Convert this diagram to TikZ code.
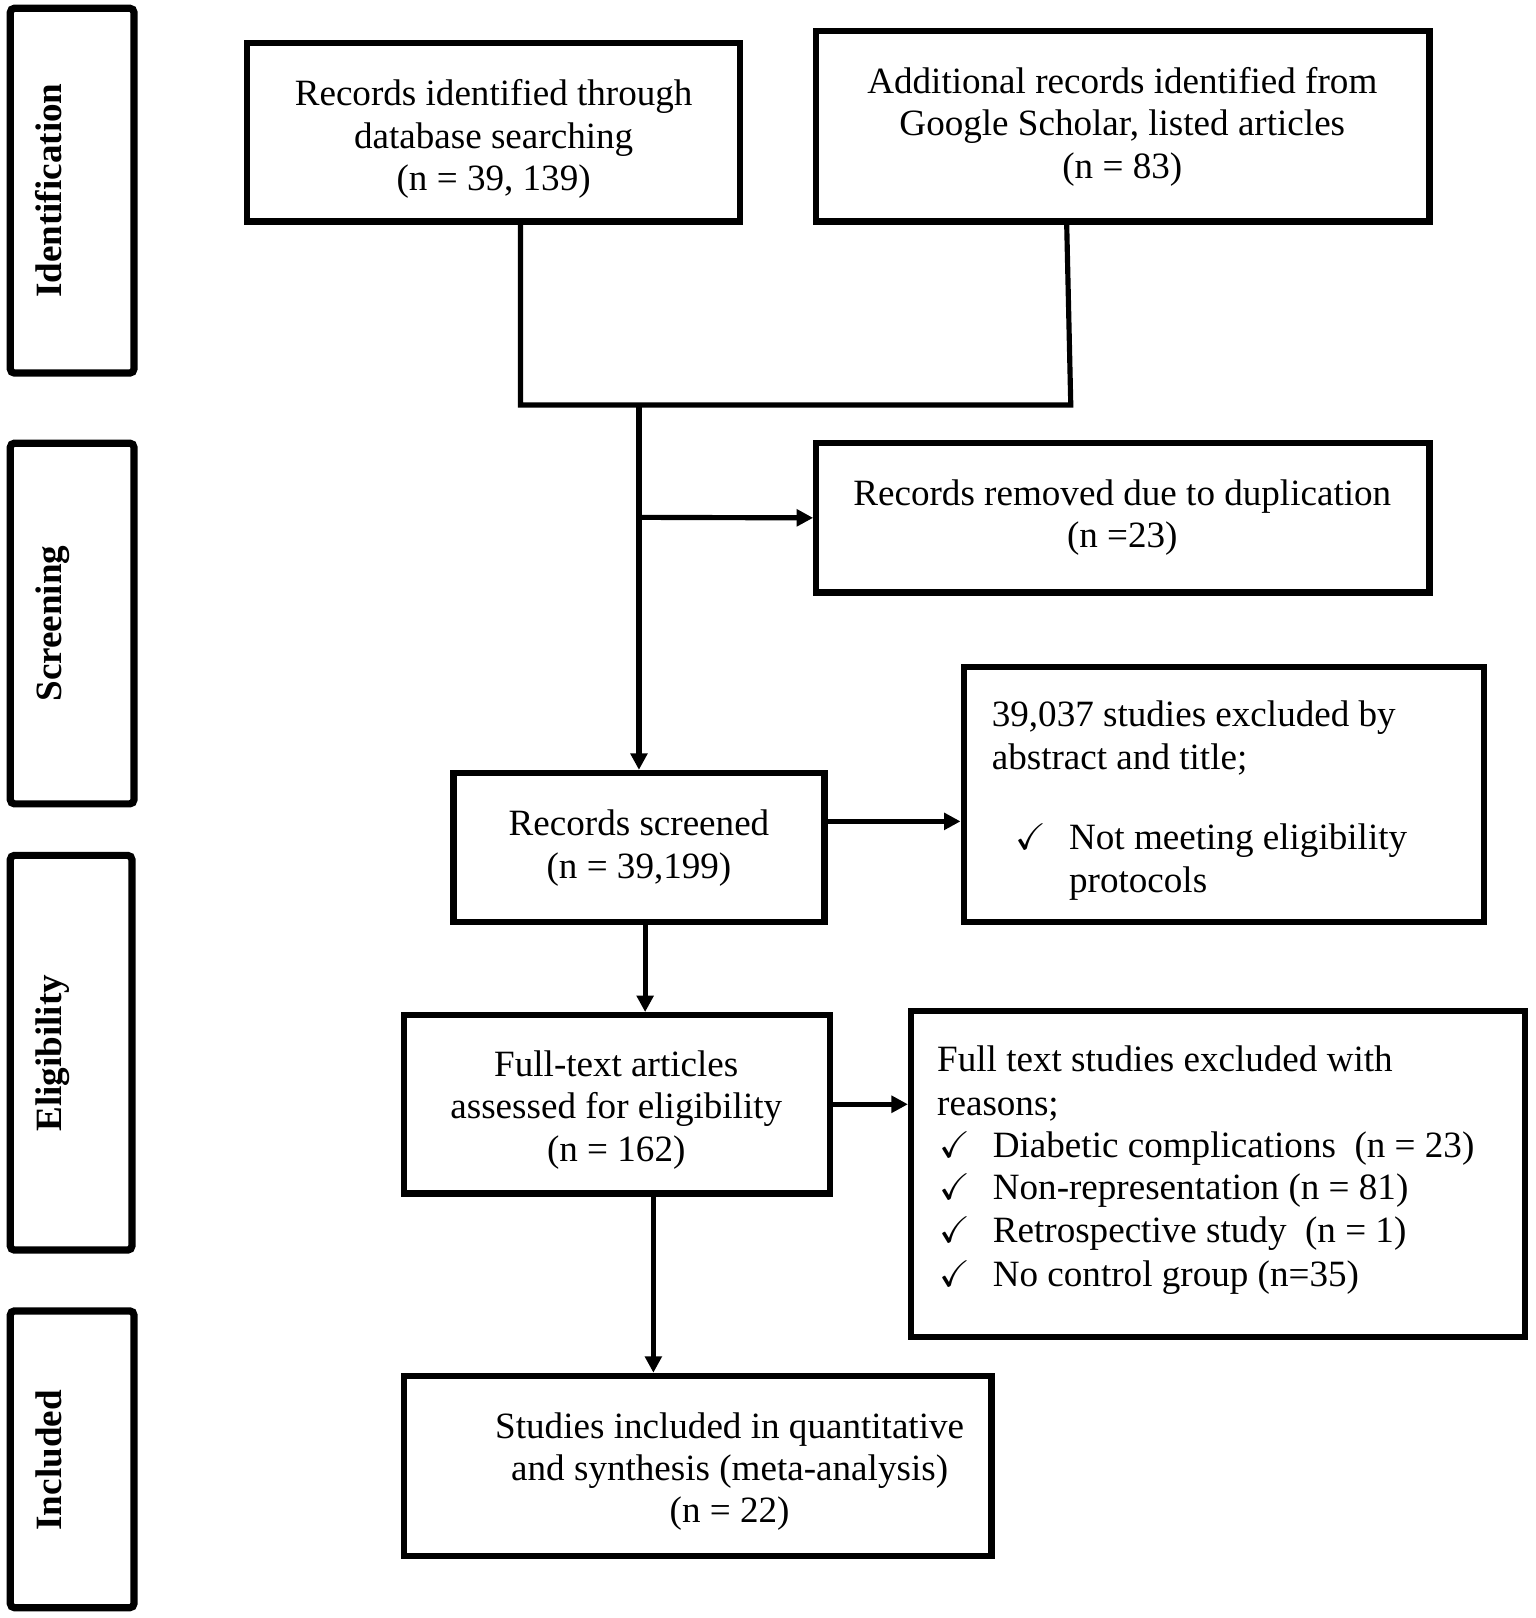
\documentclass[tikz,border=0pt]{standalone}
\usepackage{amssymb}
\usepackage{fontspec}
\setmainfont{Liberation Serif}
\usetikzlibrary{arrows.meta,fit}
\begin{document}
\begin{tikzpicture}[x=0.5pt,y=-0.5pt,
 every node/.style={font=\fontsize{18}{20.5}\selectfont},
 box/.style={draw, line width=3pt, inner sep=0pt},
 side/.style={draw, line width=3.5pt, rounded corners=2pt, inner sep=0pt},
 sidelabel/.style={rotate=90, anchor=base, inner sep=0pt, font=\bfseries\fontsize{18}{20.5}\selectfont},
 conn/.style={line width=2.5pt, line join=miter},
 arr/.style={conn, -{Triangle[length=8pt,width=8pt]}},
 txt/.style={anchor=base west, inner sep=0pt},
 ctxt/.style={align=center, inner sep=0pt}
]
\useasboundingbox[fill=white] (0,0) rectangle (1490,1570);

% side phase boxes
\node[side, fit={(10,8)(130,362)}] (s1) {};
\node[sidelabel] (l1) at (60,185) {Identification};
\node[side, fit={(10,430)(130,780)}] (s2) {};
\node[sidelabel] (l2) at (60,605) {Screening};
\node[side, fit={(10,830)(128,1213)}] (s3) {};
\node[sidelabel] (l3) at (60,1022) {Eligibility};
\node[side, fit={(10,1272)(130,1560)}] (s4) {};
\node[sidelabel] (l4) at (60,1417) {Included};

% main boxes
\node[box, fit={(240,42)(718,215)}] (b1) {};
\node[ctxt] (b1t) at (479,135) {Records identified through\\database searching\\(n = 39, 139)};
\node[box, fit={(792,30)(1387,215)}] (b2) {};
\node[ctxt] (b2t) at (1089,123) {Additional records identified from\\Google Scholar, listed articles\\(n = 83)};
\node[box, fit={(792,430)(1387,575)}] (rem) {};
\node[ctxt] (remt) at (1089,502) {Records removed due to duplication\\(n =23)};
\node[box, fit={(440,750)(800,895)}] (scr) {};
\node[ctxt] (scrt) at (620,823) {Records screened\\(n = 39,199)};
\node[box, fit={(935,647)(1440,895)}] (excl) {};
\node[box, fit={(392,985)(805,1158)}] (ft) {};
\node[ctxt] (ftt) at (598,1077) {Full-text articles\\assessed for eligibility\\(n = 162)};
\node[box, fit={(884,981)(1480,1297)}] (ftex) {};
\node[box, fit={(392,1335)(962,1510)}] (inc) {};
\node[ctxt] (inct) at (708,1428) {Studies included in quantitative\\and synthesis (meta-analysis)\\(n = 22)};

% texts of the excluded boxes
\node[txt] (e1) at (962,705) {39,037 studies excluded by};
\node[txt] (e2) at (962,747) {abstract and title;};
\node[txt] (e3) at (985,824) {$\checkmark$};
\node[txt] (e4) at (1037,824) {Not meeting eligibility};
\node[txt] (e5) at (1037,866) {protocols};

\node[txt] (f1) at (909,1040) {Full text studies excluded with};
\node[txt] (f2) at (909,1082) {reasons;};
\node[txt] (c1) at (911,1123) {$\checkmark$};
\node[txt] (f3) at (963,1123) {Diabetic complications\ \ (n = 23)};
\node[txt] (c2) at (911,1164) {$\checkmark$};
\node[txt] (f4) at (963,1164) {Non-representation (n = 81)};
\node[txt] (c3) at (911,1206) {$\checkmark$};
\node[txt] (f5) at (963,1206) {Retrospective study\ \ (n = 1)};
\node[txt] (c4) at (911,1248) {$\checkmark$};
\node[txt] (f6) at (963,1248) {No control group (n=35)};

% connectors
\coordinate (jl) at (505,393);
\coordinate (jr) at (1039,393);
\coordinate (jt) at (1035,215);
\draw[conn] (b1.south -| jl) -- (jl) -- (jr) -- (jt);
\coordinate (jm) at (620,393);
\draw[arr] (jm) -- (scr.north);
\coordinate (jb) at (620,502);
\draw[arr] (jb) -- (rem.west);
\coordinate (ya) at (0,797);
\draw[arr] (scr.east |- ya) -- (excl.west |- ya);
\coordinate (xa) at (626,0);
\draw[arr] (scr.south -| xa) -- (ft.north -| xa);
\draw[arr] (ft.east) -- (ftex.west |- ft.east);
\coordinate (xb) at (634,0);
\draw[arr] (ft.south -| xb) -- (inc.north -| xb);
\end{tikzpicture}
\end{document}
